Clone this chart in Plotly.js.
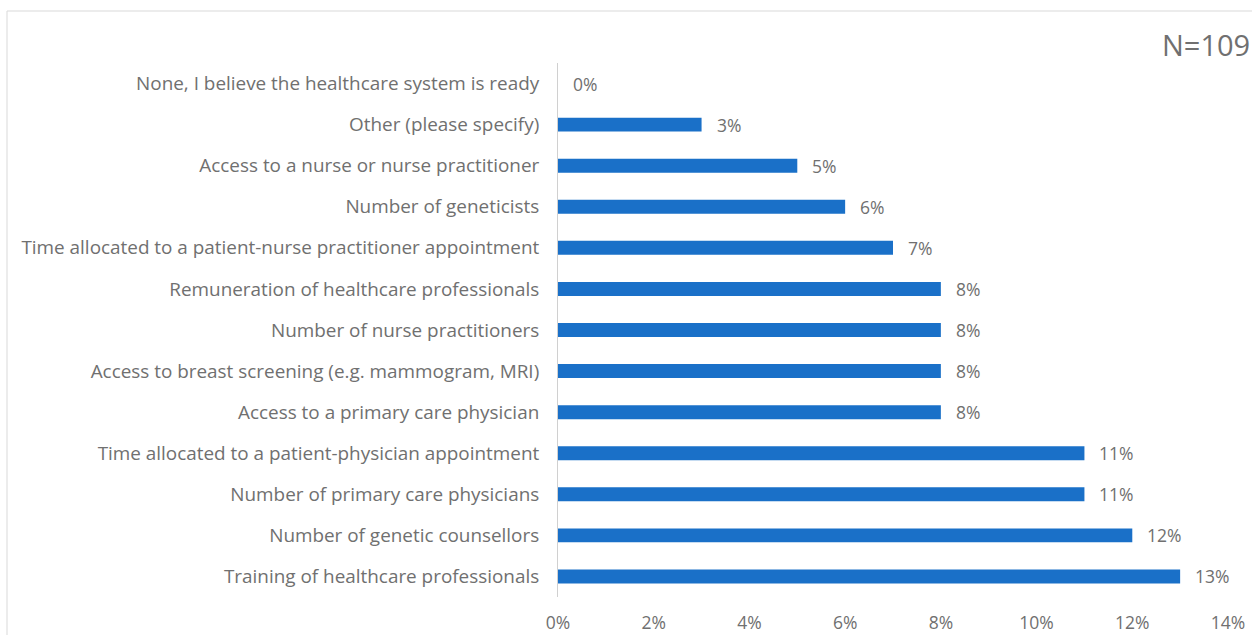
<!DOCTYPE html>
<html>
<head>
<meta charset="utf-8">
<script src="https://cdn.plot.ly/plotly-3.0.1.min.js"></script>
<style>
  html, body { margin: 0; padding: 0; background: #fff; }
  #chart { width: 1252px; height: 635px; }
</style>
</head>
<body>
<div id="chart"></div>
<script>
const categories = [
  "None, I believe the healthcare system is ready",
  "Other (please specify)",
  "Access to a nurse or nurse practitioner",
  "Number of geneticists",
  "Time allocated to a patient-nurse practitioner appointment",
  "Remuneration of healthcare professionals",
  "Number of nurse practitioners",
  "Access to breast screening (e.g. mammogram, MRI)",
  "Access to a primary care physician",
  "Time allocated to a patient-physician appointment",
  "Number of primary care physicians",
  "Number of genetic counsellors",
  "Training of healthcare professionals"
];
const values = [0, 3, 5, 6, 7, 8, 8, 8, 8, 11, 11, 12, 13];
const tickValues = [0, 2, 4, 6, 8, 10, 12, 14];
const tickLabels = ["0%", "2%", "4%", "6%", "8%", "10%", "12%", "14%"];
const sampleNote = "N=109";

const textColor = "#707070";
const fontFam = "'Open Sans', 'Noto Sans', sans-serif";

const trace = {
  type: "bar",
  orientation: "h",
  y: categories,
  x: values,
  marker: { color: "#1a70c8" },
  width: 0.34,
  hoverinfo: "skip"
};

const annotations = values.map((v, i) => ({
  x: v, y: categories[i], xref: "x", yref: "y",
  text: v + "%", showarrow: false, xanchor: "left", yanchor: "middle",
  xshift: 13, font: { family: fontFam, size: 17.5, color: textColor }
}));
annotations.push({
  xref: "paper", yref: "paper", x: 1.036, y: 1.034,
  xanchor: "right", yanchor: "middle", text: sampleNote, showarrow: false,
  font: { family: fontFam, size: 29, color: textColor }
});

const layout = {
  width: 1252, height: 635,
  margin: { l: 558, r: 24, t: 63, b: 38 },
  paper_bgcolor: "#fff", plot_bgcolor: "#fff",
  showlegend: false,
  font: { family: fontFam, color: textColor },
  xaxis: {
    range: [0, 14], tickvals: tickValues, ticktext: tickLabels,
    showgrid: false, zeroline: false, showline: false, ticks: "",
    tickfont: { family: fontFam, size: 17.5, color: textColor },
    ticklabelstandoff: 13, fixedrange: true
  },
  yaxis: {
    autorange: "reversed", type: "category",
    showgrid: false, zeroline: false,
    showline: true, linecolor: "#d0d0d0", linewidth: 1, ticks: "",
    tickfont: { family: fontFam, size: 18.9, color: textColor },
    ticklabelstandoff: 14, fixedrange: true
  },
  annotations: annotations,
  shapes: [{
    type: "rect", xref: "paper", yref: "paper",
    x0: (7 - 558) / 670, x1: 1.2, y0: -0.3, y1: (597 - 11) / 534,
    line: { color: "#d9d9d9", width: 1 }, fillcolor: "rgba(0,0,0,0)", layer: "below"
  }]
};

Plotly.newPlot("chart", [trace], layout, { displayModeBar: false, staticPlot: true });
</script>
</body>
</html>
